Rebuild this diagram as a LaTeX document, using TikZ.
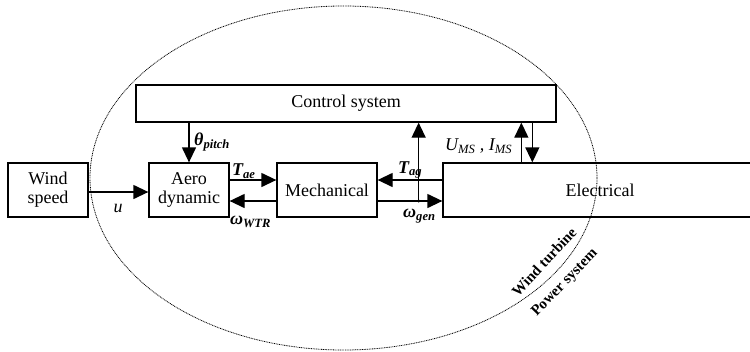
\documentclass[tikz,border=0pt]{standalone}
\usepackage{fontspec}
\setmainfont{Liberation Serif}
\usetikzlibrary{arrows.meta,calc}
\begin{document}
\begin{tikzpicture}[x=1pt,y=-1pt,
  blk/.style={draw,line width=1.3pt,minimum height=54pt,inner sep=0pt,align=center,font=\fontsize{18}{19}\selectfont},
  arr/.style={line width=1.3pt,-{Triangle[length=15pt,width=14pt]}},
  lbl/.style={inner sep=0pt,font=\fontsize{18}{19}\selectfont},
  rim/.style={line width=0.8pt,dash pattern=on 0.9pt off 0.8pt},
  tag/.style={inner sep=0pt,font=\fontsize{15}{16}\selectfont\bfseries}]
\useasboundingbox (0,0) rectangle (750,351);
\clip (0,0) rectangle (750,351);
% boundary ellipse
\draw[rim] (343.5,178) ellipse [x radius=253.5, y radius=172];
% blocks
\node[blk,minimum width=80pt] (ws) at (48,190) {Wind\\speed};
\node[blk,minimum width=80pt] (aero) at (189,190) {Aero\\dynamic};
\node[blk,minimum width=100pt] (mech) at (327,190) {Mechanical};
\node[blk,minimum width=314pt] (elec) at (600,190) {Electrical};
\node[blk,minimum width=420pt,minimum height=37pt] (ctrl) at (346,103.5) {Control system};
% connectors
\draw[arr] ($(ws.east)+(0,2)$) -- ($(aero.west)+(0,2)$);
\draw[arr] (aero.north |- ctrl.south) -- (aero.north);
\draw[arr] ($(aero.east)+(0,-10)$) -- ($(mech.west)+(0,-10)$);
\draw[arr] ($(mech.west)+(0,11)$) -- ($(aero.east)+(0,11)$);
\draw[arr] ($(elec.west)+(0,-10)$) -- ($(mech.east)+(0,-10)$);
\draw[arr] ($(mech.east)+(0,11)$) -- ($(elec.west)+(0,11)$);
\coordinate (tap) at ($(mech.east)+(41,11)$);
\fill (tap) circle (1.6pt);
\draw[arr] (tap) -- (tap |- ctrl.south);
\coordinate (up) at ($(elec.north west)+(79,0)$);
\coordinate (dn) at ($(elec.north west)+(90,0)$);
\draw[arr] (up) -- (up |- ctrl.south);
\draw[arr] (dn |- ctrl.south) -- (dn);
% labels
\node[lbl] (lu) at (118,208) {\itshape u};
\node[lbl,anchor=west] (lth) at (194,142) {\bfseries\itshape θ\textsubscript{pitch}};
\node[lbl,anchor=west] (ltae) at (232,171) {\bfseries\itshape T\textsubscript{ae}};
\node[lbl,anchor=west] (lwtr) at (230,222) {\bfseries\itshape ω\textsubscript{WTR}};
\node[lbl,anchor=west] (ltag) at (398,170) {\bfseries\itshape T\textsubscript{ag}};
\node[lbl,anchor=west] (lgen) at (403,216) {\bfseries\itshape ω\textsubscript{gen}};
\node[lbl,anchor=west] (lum) at (445,146) {\itshape U\textsubscript{MS} , I\textsubscript{MS}};
\node[tag,rotate=47] (lwt) at (544,262) {Wind turbine};
\node[tag,rotate=46] (lps) at (565,283) {Power system};
\end{tikzpicture}
\end{document}
